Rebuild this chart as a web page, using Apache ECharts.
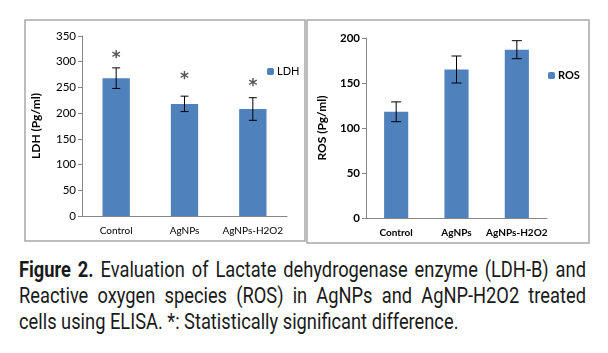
<!DOCTYPE html>
<html>
<head>
<meta charset="utf-8">
<script src="https://cdn.jsdelivr.net/npm/echarts@6/dist/echarts.min.js"></script>
<style>
  html, body { margin: 0; padding: 0; background: #fff; overflow: hidden; }
  #chart { position: absolute; left: 0; top: 0; width: 608px; height: 253px; }
  #caption {
    position: absolute; left: 19px; top: 257px; width: 667px;
    transform: scaleX(0.85); transform-origin: 0 0;
    font-family: Roboto, "Liberation Sans", sans-serif;
    font-size: 21.5px; line-height: 26px; color: #1a1a1a;
  }
  #caption div { text-align: justify; text-align-last: justify; white-space: nowrap; }
  #caption div.last { text-align-last: left; }
  #caption b { font-weight: bold; }
</style>
</head>
<body>
<div id="chart"></div>
<div id="caption">
  <div><b>Figure 2.</b> Evaluation of Lactate dehydrogenase enzyme (LDH-B) and</div>
  <div>Reactive oxygen species (ROS) in AgNPs and AgNP-H2O2 treated</div>
  <div class="last">cells using ELISA. *: Statistically significant difference.</div>
</div>
<script>
const categories = ['Control', 'AgNPs', 'AgNPs-H2O2'];

const ldhValues = [268, 218, 208];
const ldhErrors = [20, 15, 22];
const ldhStars = [313, 274, 260];
const ldhTicks = [0, 50, 100, 150, 200, 250, 300, 350];

const rosValues = [118, 165, 187];
const rosErrors = [11, 15, 10];
const rosTicks = [0, 50, 100, 150, 200];

const barColor = '#4f81bd';
const axisColor = '#868686';
const font = 'Lato, "Liberation Sans", sans-serif';

const chart = echarts.init(document.getElementById('chart'));

function errorBars(xIdx, yIdx, values, errors, cap) {
  return {
    type: 'custom',
    xAxisIndex: xIdx,
    yAxisIndex: yIdx,
    silent: true,
    z: 5,
    data: values.map((v, i) => [i, v - errors[i], v + errors[i]]),
    renderItem: (params, api) => {
      const lo = api.coord([api.value(0), api.value(1)]);
      const hi = api.coord([api.value(0), api.value(2)]);
      const style = { stroke: '#000', lineWidth: 1 };
      return {
        type: 'group',
        children: [
          { type: 'line', shape: { x1: lo[0], y1: lo[1], x2: hi[0], y2: hi[1] }, style },
          { type: 'line', shape: { x1: hi[0] - cap, y1: hi[1], x2: hi[0] + cap, y2: hi[1] }, style },
          { type: 'line', shape: { x1: lo[0] - cap, y1: lo[1], x2: lo[0] + cap, y2: lo[1] }, style },
        ],
      };
    },
  };
}

function yAxisOf(gridIdx, name, ticks, bold) {
  return {
    type: 'value',
    gridIndex: gridIdx,
    min: ticks[0],
    max: ticks[ticks.length - 1],
    interval: ticks[1] - ticks[0],
    name: name,
    nameLocation: 'middle',
    nameGap: gridIdx === 0 ? 40 : 38,
    nameTextStyle: { fontFamily: font, fontSize: 12, fontWeight: 'bold', color: '#000' },
    axisLine: { show: true, lineStyle: { color: axisColor } },
    axisTick: { show: true, length: 4, lineStyle: { color: axisColor } },
    splitLine: { show: false },
    axisLabel: { fontFamily: font, fontSize: 11.5, color: '#000', margin: 6, fontWeight: bold ? 'bold' : 'normal' },
  };
}

function xAxisOf(gridIdx, bold) {
  return {
    type: 'category',
    gridIndex: gridIdx,
    data: categories,
    axisLine: { lineStyle: { color: axisColor } },
    axisTick: { length: 4, lineStyle: { color: axisColor } },
    axisLabel: {
      interval: 0, fontFamily: font, fontSize: 10, color: '#000', margin: 10,
      fontWeight: bold ? 'bold' : 'normal',
    },
  };
}

const option = {
  animation: false,
  graphic: [
    { type: 'rect', shape: { x: 25, y: 20, width: 280, height: 221 }, style: { fill: 'none', stroke: '#a8a8a8', lineWidth: 1.5 } },
    { type: 'rect', shape: { x: 307, y: 20, width: 282, height: 223 }, style: { fill: 'none', stroke: '#a8a8a8', lineWidth: 1.5 } },
  ],
  grid: [
    { left: 82, top: 36, width: 205, height: 180 },
    { left: 366, top: 38, width: 181, height: 180 },
  ],
  legend: [
    {
      data: ['LDH'], left: 262, top: 61, itemWidth: 7, itemHeight: 7, itemGap: 4,
      textStyle: { fontFamily: font, fontSize: 11, color: '#000', padding: [0, 0, 0, -2] },
    },
    {
      data: ['ROS'], left: 543, top: 65, itemWidth: 7, itemHeight: 7, itemGap: 4,
      textStyle: { fontFamily: font, fontSize: 11, color: '#000', fontWeight: 'bold', padding: [0, 0, 0, -2] },
    },
  ],
  xAxis: [xAxisOf(0, false), xAxisOf(1, true)],
  yAxis: [yAxisOf(0, 'LDH (Pg/ml)', ldhTicks, false), yAxisOf(1, 'ROS (Pg/ml)', rosTicks, true)],
  series: [
    {
      name: 'LDH', type: 'bar', xAxisIndex: 0, yAxisIndex: 0, barWidth: '40%',
      itemStyle: { color: barColor }, data: ldhValues,
    },
    errorBars(0, 0, ldhValues, ldhErrors, 4),
    {
      type: 'scatter', xAxisIndex: 0, yAxisIndex: 0, symbolSize: 0, silent: true,
      data: ldhStars,
      label: {
        show: true, position: 'inside', formatter: '*', fontSize: 17, fontWeight: 'bold',
        color: '#2b2b2b', fontFamily: '"DejaVu Sans", sans-serif', offset: [0, 4],
      },
    },
    {
      name: 'ROS', type: 'bar', xAxisIndex: 1, yAxisIndex: 1, barWidth: '40%',
      itemStyle: { color: barColor }, data: rosValues,
    },
    errorBars(1, 1, rosValues, rosErrors, 5),
  ],
};

chart.setOption(option);
</script>
</body>
</html>
